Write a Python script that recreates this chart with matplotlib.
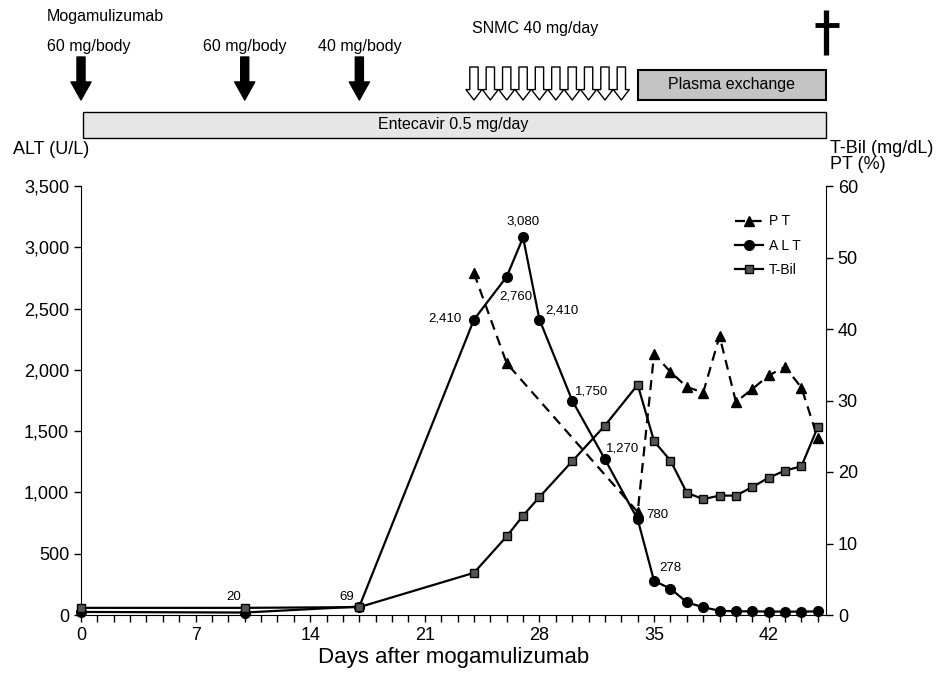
import numpy as np
import matplotlib.pyplot as plt
from matplotlib.patches import Rectangle
from matplotlib.ticker import FuncFormatter, MultipleLocator

plt.rcParams['font.family'] = ['Liberation Sans', 'DejaVu Sans']

# ALT (U/L), left axis
alt_days = [0, 10, 17, 24, 26, 27, 28, 30, 32, 34, 35, 36, 37, 38, 39, 40, 41, 42, 43, 44, 45]
alt_vals = [25, 20, 69, 2410, 2760, 3080, 2410, 1750, 1270, 780, 278, 215, 104, 63, 35, 30, 30, 28, 28, 27, 30]

# T-Bil (mg/dL), right axis
tbil_days = [0, 10, 17, 24, 26, 27, 28, 30, 32, 34, 35, 36, 37, 38, 39, 40, 41, 42, 43, 44, 45]
tbil_vals = [1.0, 1.0, 1.1, 5.9, 11.0, 13.9, 16.5, 21.5, 26.5, 32.2, 24.3, 21.6, 17.1, 16.2,
             16.7, 16.7, 17.9, 19.2, 20.2, 20.8, 26.3]

# PT (%), right axis
pt_days = [24, 26, 34, 35, 36, 37, 38, 39, 40, 41, 42, 43, 44, 45]
pt_vals = [47.8, 35.2, 14.4, 36.5, 34.0, 31.9, 31.1, 39.0, 29.8, 31.6, 33.5, 34.7, 31.8, 24.7]

# ALT points with a value label
label_days = [10, 17, 24, 26, 27, 28, 30, 32, 34, 35]
label_text = ['20', '69', '2,410', '2,760', '3,080', '2,410', '1,750', '1,270', '780', '278']

# treatments
dose_days = [0, 10, 17]
dose_text = ['60 mg/body', '60 mg/body', '40 mg/body']
snmc_days = list(range(24, 34))
plasma_start = 34
entecavir_start = 0
x_end = 45.5

fig = plt.figure(figsize=(9.37, 6.75), dpi=100)
L, W = 81 / 937, 745 / 937
ax = fig.add_axes([L, 60 / 675, W, 429 / 675])
ax2 = ax.twinx()

ax.plot(alt_days, alt_vals, '-o', color='black', lw=1.6, ms=7, clip_on=False, zorder=3, label='A L T')
ax2.plot(pt_days, pt_vals, '--^', color='black', lw=1.6, ms=7, dashes=(4.5, 3), clip_on=False, label='P T')
ax2.plot(tbil_days, tbil_vals, '-s', color='black', mfc='#555555', mec='black', lw=1.6, ms=5.5,
         clip_on=False, label='T-Bil')

ax.set_xlim(0, x_end)
ax.set_ylim(0, 3500)
ax2.set_ylim(0, 60)
ax.xaxis.set_major_locator(MultipleLocator(7))
ax.xaxis.set_minor_locator(MultipleLocator(1))
ax.yaxis.set_major_locator(MultipleLocator(500))
ax2.yaxis.set_major_locator(MultipleLocator(10))
ax.yaxis.set_major_formatter(FuncFormatter(lambda v, p: f'{int(v):,}'))
ax.tick_params(axis='both', which='both', direction='out', length=5, width=1, labelsize=13)
ax2.tick_params(axis='y', direction='out', length=5, width=1, labelsize=13)
for a in (ax, ax2):
    a.spines['top'].set_visible(False)
ax.spines['right'].set_visible(False)
ax2.spines['left'].set_visible(False)
ax2.spines['bottom'].set_visible(False)
ax.set_xlabel('Days after mogamulizumab', fontsize=16, labelpad=2)

ax.text(-0.091, 1.084, 'ALT (U/L)', transform=ax.transAxes, fontsize=13, va='center', ha='left')
ax.text(1.005, 1.107, 'T-Bil (mg/dL)\nPT (%)', transform=ax.transAxes, fontsize=13,
        va='top', ha='left', linespacing=0.95)

# value labels on ALT
offsets = [(-11, 16), (-13, 10), (-29, 1), (9, -20), (0, 16), (22, 9), (19, 9), (18, 11), (20, 4), (16, 13)]
for d, t, off in zip(label_days, label_text, offsets):
    v = alt_vals[alt_days.index(d)]
    ax.annotate(t, (d, v), xytext=off, textcoords='offset pixels', ha='center', va='center', fontsize=9.5)

h = ax2.get_legend_handles_labels()[0] + ax.get_legend_handles_labels()[0]
h = [h[0], h[2], h[1]]
ax2.legend(handles=h, loc='upper right', bbox_to_anchor=(0.975, 0.95), frameon=False, fontsize=10,
           handlelength=2.0, handletextpad=0.4, labelspacing=0.75, borderpad=0)

# treatment header
top = fig.add_axes([L, 1 - 148 / 675, W, 148 / 675])
top.set_xlim(0, x_end)
top.set_ylim(148, 0)
top.axis('off')

top.text(-2.1, 17, 'Mogamulizumab', fontsize=11.5, va='center', ha='left')
for i, (d, t) in enumerate(zip(dose_days, dose_text)):
    if i == 0:
        top.text(d - 2.1, 47, t, fontsize=11.5, va='center', ha='left')
    else:
        top.text(d, 47, t, fontsize=11.5, va='center', ha='center')
    top.annotate('', xy=(d, 100), xytext=(d, 57),
                 arrowprops=dict(arrowstyle='simple,head_length=1.3,head_width=1.45,tail_width=0.58',
                                 fc='black', ec='black', shrinkA=0, shrinkB=0, mutation_scale=10))

top.text(snmc_days[0] - 0.1, 28, 'SNMC 40 mg/day', fontsize=11.5, va='center', ha='left')
for d in snmc_days:
    top.annotate('', xy=(d, 100), xytext=(d, 67),
                 arrowprops=dict(arrowstyle='simple,head_length=0.75,head_width=1.15,tail_width=0.6',
                                 fc='white', ec='black', lw=1, shrinkA=0, shrinkB=0, mutation_scale=10))

top.add_patch(Rectangle((plasma_start, 70), x_end - plasma_start, 30, fc='#c4c4c4', ec='black', lw=1.5,
                        clip_on=False))
top.text((plasma_start + x_end) / 2, 85, 'Plasma exchange', fontsize=11.5, va='center', ha='center')

top.add_patch(Rectangle((entecavir_start + 0.15, 112), x_end - entecavir_start - 0.15, 26, fc='#e6e6e6',
                        ec='black', lw=1, clip_on=False))
top.text((entecavir_start + x_end) / 2, 125, 'Entecavir 0.5 mg/day', fontsize=11.5, va='center', ha='center')

# cross at the day of death
top.plot([x_end, x_end], [10, 55], color='black', lw=3.8, solid_capstyle='butt', clip_on=False)
top.plot([x_end - 0.7, x_end + 0.8], [25, 25], color='black', lw=3.5, solid_capstyle='butt', clip_on=False)

fig.savefig('out.png', dpi=100)
